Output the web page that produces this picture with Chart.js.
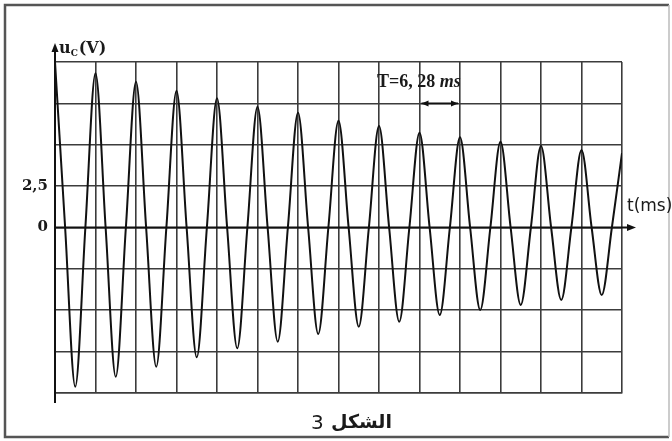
<!DOCTYPE html>
<html>
<head>
<meta charset="utf-8">
<script src="https://cdn.jsdelivr.net/npm/chart.js@4/dist/chart.umd.min.js"></script>
<style>html,body{margin:0;padding:0;background:#fff}canvas{display:block}</style>
</head>
<body>
<canvas id="c" width="672" height="441"></canvas>
<script>
// ---- data ----
const periodMs = 6.28;          // T = 6,28 ms (one grid division)
const periodCount = 14;
// maxima of u_C (V) at t = k*T
const peakValues = [10.0, 9.32, 8.81, 8.27, 7.81, 7.30, 6.94, 6.45, 6.13, 5.73, 5.45, 5.18, 4.92, 4.68, 4.50];
// minima of u_C (V) at t = (k+1/2)*T
const troughValues = [-9.62, -9.02, -8.41, -7.84, -7.30, -6.90, -6.43, -5.99, -5.69, -5.29, -4.98, -4.68, -4.38, -4.08];
// zero crossings of u_C at t = (k+1/4)*T and (k+3/4)*T
const crossingValue = 0;
const yTickValues = [2.5, 0];
const yTickLabels = ['2,5', '0'];
const yAxisTitle = ['u', 'C', '(V)'];
const xAxisTitle = 't(ms)';
const periodLabel = ['T=6, 28 ', 'ms'];
const captionWord = 'الشكل';
const captionNumber = '3';

const points = [];
for (let k = 0; k <= periodCount; k++) {
  points.push({x: k * periodMs, y: peakValues[k]});
  if (k < periodCount) {
    points.push({x: (k + 0.25) * periodMs, y: crossingValue});
    points.push({x: (k + 0.5) * periodMs, y: troughValues[k]});
    points.push({x: (k + 0.75) * periodMs, y: crossingValue});
  }
}

const gridColor = '#3c3c3c';

const decor = {
  id: 'decor',
  afterDraw(chart) {
    const ctx = chart.ctx, xs = chart.scales.x, ys = chart.scales.y;
    const x0 = xs.left, yZ = ys.getPixelForValue(0);
    ctx.save();
    // frame
    ctx.strokeStyle = '#555';
    ctx.lineWidth = 2.5;
    ctx.beginPath();
    ctx.moveTo(669, 5); ctx.lineTo(5, 5); ctx.lineTo(5, 437); ctx.lineTo(669, 437);
    ctx.stroke();
    ctx.strokeStyle = '#bbb'; ctx.lineWidth = 1.5;
    ctx.beginPath(); ctx.moveTo(669, 5); ctx.lineTo(669, 437); ctx.stroke();

    // axes with arrows
    ctx.strokeStyle = '#111'; ctx.fillStyle = '#111'; ctx.lineWidth = 2;
    ctx.beginPath();
    ctx.moveTo(x0, ys.bottom + 10); ctx.lineTo(x0, ys.top - 12);
    ctx.moveTo(x0, yZ); ctx.lineTo(xs.right + 6, yZ);
    ctx.stroke();
    ctx.beginPath();
    ctx.moveTo(x0, ys.top - 19); ctx.lineTo(x0 - 3.5, ys.top - 10); ctx.lineTo(x0 + 3.5, ys.top - 10); ctx.closePath();
    ctx.fill();
    ctx.beginPath();
    ctx.moveTo(xs.right + 14, yZ); ctx.lineTo(xs.right + 5, yZ - 3.5); ctx.lineTo(xs.right + 5, yZ + 3.5); ctx.closePath();
    ctx.fill();

    // y axis title u_C(V)
    ctx.fillStyle = '#1a1a1a';
    ctx.textBaseline = 'alphabetic'; ctx.textAlign = 'left';
    const tb = ys.top - 9;
    ctx.font = 'bold 16px "DejaVu Serif"';
    ctx.fillText(yAxisTitle[0], x0 + 4, tb);
    let w = ctx.measureText(yAxisTitle[0]).width;
    ctx.font = 'bold 9px "DejaVu Serif"';
    ctx.fillText(yAxisTitle[1], x0 + 4 + w, tb + 3);
    let w2 = ctx.measureText(yAxisTitle[1]).width;
    ctx.font = 'bold 16px "DejaVu Serif"';
    ctx.fillText(yAxisTitle[2], x0 + 5 + w + w2, tb);

    // x axis title
    ctx.font = '17px "DejaVu Sans"';
    ctx.fillText(xAxisTitle, xs.right + 5, yZ - 17);

    // period annotation
    const xa = xs.getPixelForValue(9 * periodMs), xb = xs.getPixelForValue(10 * periodMs);
    const ya = ys.getPixelForValue(7.5);
    ctx.lineWidth = 1.6; ctx.strokeStyle = '#111'; ctx.fillStyle = '#111';
    ctx.beginPath(); ctx.moveTo(xa + 2, ya); ctx.lineTo(xb - 2, ya); ctx.stroke();
    ctx.beginPath(); ctx.moveTo(xa + 2, ya); ctx.lineTo(xa + 9, ya - 3); ctx.lineTo(xa + 9, ya + 3); ctx.closePath(); ctx.fill();
    ctx.beginPath(); ctx.moveTo(xb - 2, ya); ctx.lineTo(xb - 9, ya - 3); ctx.lineTo(xb - 9, ya + 3); ctx.closePath(); ctx.fill();
    ctx.fillStyle = '#1a1a1a';
    ctx.font = 'bold 18px "Liberation Serif"';
    const px = xs.getPixelForValue(8 * periodMs) - 2;
    ctx.fillText(periodLabel[0], px, ya - 16);
    const pw = ctx.measureText(periodLabel[0]).width;
    ctx.font = 'italic bold 18px "Liberation Serif"';
    ctx.fillText(periodLabel[1], px + pw, ya - 16);

    // caption: number on the left, Arabic word on the right
    ctx.font = '20px "DejaVu Sans"';
    ctx.fillText(captionNumber, 311, 429);
    ctx.font = 'bold 19px "DejaVu Sans"';
    ctx.fillText(captionWord, 331, 428);
    ctx.restore();
  }
};

new Chart(document.getElementById('c'), {
  type: 'line',
  data: {
    datasets: [{
      data: points,
      borderColor: '#111',
      borderWidth: 2,
      pointRadius: 0,
      fill: false,
      cubicInterpolationMode: 'monotone'
    }]
  },
  options: {
    responsive: false,
    animation: false,
    devicePixelRatio: 1,
    layout: {padding: {left: 0, right: 50, top: 62, bottom: 48}},
    plugins: {legend: {display: false}, tooltip: {enabled: false}},
    scales: {
      x: {
        type: 'linear',
        min: 0,
        max: periodMs * periodCount,
        ticks: {display: false, stepSize: periodMs},
        grid: {color: gridColor, lineWidth: 1.6, drawTicks: false},
        border: {color: gridColor, width: 1.6}
      },
      y: {
        type: 'linear',
        min: -10,
        max: 10,
        ticks: {
          stepSize: 2.5,
          padding: 7,
          color: '#1a1a1a',
          font: {family: 'DejaVu Serif', weight: 'bold', size: 15},
          callback: (v) => {
            const i = yTickValues.indexOf(v);
            return i >= 0 ? yTickLabels[i] : '';
          }
        },
        grid: {color: gridColor, lineWidth: 1.6, drawTicks: false},
        border: {color: gridColor, width: 1.6},
        afterFit: (s) => { s.width = 55; }
      }
    }
  },
  plugins: [decor]
});
</script>
</body>
</html>
